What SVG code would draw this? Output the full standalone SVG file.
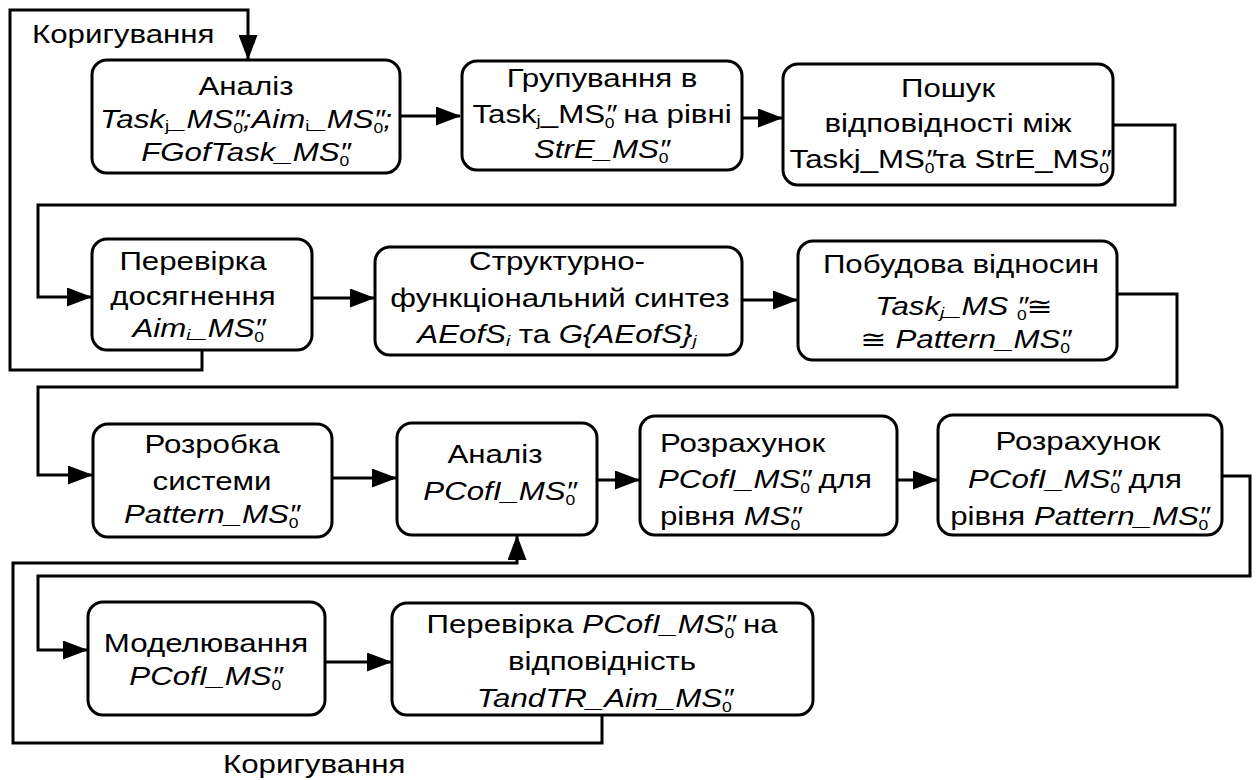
<svg xmlns="http://www.w3.org/2000/svg" width="1258" height="780" viewBox="0 0 1258 780">
<style>
.box{fill:#fff;stroke:#000;stroke-width:3}
.c{fill:none;stroke:#000;stroke-width:3}
.t{font-family:"Liberation Sans",Arial,"DejaVu Sans",sans-serif;font-size:25px;text-anchor:middle;fill:#000}
.l{text-anchor:start}
.i{font-style:italic}
.s{font-size:15px}
.z{font-size:14px;font-style:normal}
.p{font-size:25px}
</style>
<defs>
<marker id="ah" markerUnits="userSpaceOnUse" markerWidth="25" markerHeight="19" refX="24" refY="9.5" orient="auto">
<path d="M0,0 L25,9.5 L0,19 z" fill="#000"/>
</marker>
</defs>
<rect width="1258" height="780" fill="#fff"/>

<g id="connectors">
<path class="c" d="M400,116 H460" marker-end="url(#ah)"/>
<path class="c" d="M742,118 H782" marker-end="url(#ah)"/>
<path class="c" d="M1113,125 H1175 V205 H38 V297 H91" marker-end="url(#ah)"/>
<path class="c" d="M312,298 H374" marker-end="url(#ah)"/>
<path class="c" d="M742,300 H797" marker-end="url(#ah)"/>
<path class="c" d="M1117,294 H1177 V387 H38 V475 H92" marker-end="url(#ah)"/>
<path class="c" d="M332,478 H396" marker-end="url(#ah)"/>
<path class="c" d="M597,480 H639" marker-end="url(#ah)"/>
<path class="c" d="M897,480 H937" marker-end="url(#ah)"/>
<path class="c" d="M1222,476 H1250 V576 H38 V650 H87" marker-end="url(#ah)"/>
<path class="c" d="M325,662 H391" marker-end="url(#ah)"/>
<path class="c" d="M202,350 V370 H10 V10 H248 V59" marker-end="url(#ah)"/>
<path class="c" d="M602,715 V743 H13 V563 H517 V536" marker-end="url(#ah)"/>
<text class="t l" transform="translate(32,43) scale(1.25,1)">Коригування</text>
<text class="t l" transform="translate(223,773) scale(1.25,1)">Коригування</text>
</g>

<g id="n1">
<rect class="box" x="92" y="60" width="308" height="113" rx="15"/>
<text class="t" transform="translate(246,95) scale(1.25,1)">Аналіз</text>
<text class="t i" transform="translate(246,128) scale(1.25,1)">Task<tspan class="s" dy="3" style="font-style:normal">j</tspan><tspan dy="-3">_MS</tspan><tspan class="p">″</tspan><tspan class="z" dx="-9" dy="5">0</tspan><tspan dy="-5">;Aim</tspan><tspan class="s" dy="3" style="font-style:normal">i</tspan><tspan dy="-3">_MS</tspan><tspan class="p">″</tspan><tspan class="z" dx="-9" dy="5">0</tspan><tspan dy="-5">;</tspan></text>
<text class="t i" transform="translate(246,161) scale(1.25,1)">FGofTask_MS<tspan class="p">″</tspan><tspan class="z" dx="-9" dy="5">0</tspan></text>
</g>

<g id="n2">
<rect class="box" x="462" y="61" width="280" height="109" rx="15"/>
<text class="t" transform="translate(602,87) scale(1.25,1)">Групування в</text>
<text class="t" transform="translate(602,123) scale(1.25,1)">Task<tspan class="s" dy="3">j</tspan><tspan dy="-3">_MS</tspan><tspan class="p i">″</tspan><tspan class="z" dx="-9" dy="5">0</tspan><tspan dy="-5"> на рівні</tspan></text>
<text class="t i" transform="translate(602,158) scale(1.25,1)">StrE_MS<tspan class="p">″</tspan><tspan class="z" dx="-9" dy="5">0</tspan></text>
</g>

<g id="n3">
<rect class="box" x="783" y="64" width="330" height="121" rx="15"/>
<text class="t" transform="translate(948,97) scale(1.25,1)">Пошук</text>
<text class="t" transform="translate(948,132) scale(1.25,1)">відповідності між</text>
<text class="t" transform="translate(950,168) scale(1.25,1)">Taskj_MS<tspan class="p i">″</tspan><tspan class="z" dx="-9" dy="5">0</tspan><tspan dy="-5">та StrE_MS</tspan><tspan class="p i">″</tspan><tspan class="z" dx="-9" dy="5">0</tspan></text>
</g>

<g id="n4">
<rect class="box" x="92" y="239" width="220" height="111" rx="15"/>
<text class="t" transform="translate(193,270) scale(1.25,1)">Перевірка</text>
<text class="t" transform="translate(193,305) scale(1.25,1)">досягнення</text>
<text class="t i" transform="translate(199,337) scale(1.25,1)">Aim<tspan class="s" dy="3">i</tspan><tspan dy="-3">_MS</tspan><tspan class="p">″</tspan><tspan class="z" dx="-9" dy="5">0</tspan></text>
</g>

<g id="n5">
<rect class="box" x="375" y="247" width="367" height="108" rx="15"/>
<text class="t" transform="translate(557,270) scale(1.25,1)">Структурно-</text>
<text class="t" transform="translate(560,307) scale(1.25,1)">функціональний синтез</text>
<text class="t" transform="translate(557,343) scale(1.25,1)"><tspan class="i">AEofS</tspan><tspan class="s i" dy="3">i</tspan><tspan dy="-3"> та </tspan><tspan class="i">G{AEofS}</tspan><tspan class="s i" dy="3">j</tspan></text>
</g>

<g id="n6">
<rect class="box" x="798" y="241" width="319" height="119" rx="15"/>
<text class="t" transform="translate(961,273) scale(1.25,1)">Побудова відносин</text>
<text class="t i" transform="translate(964,315) scale(1.25,1)">Task<tspan class="s" dy="3">j</tspan><tspan dy="-3">_MS </tspan><tspan class="p">″</tspan><tspan class="z" dx="-9" dy="5">0</tspan><tspan dy="-5" style="font-style:normal">≅</tspan></text>
<text class="t i" transform="translate(966,348) scale(1.25,1)"><tspan style="font-style:normal">≅ </tspan>Pattern_MS<tspan class="p">″</tspan><tspan class="z" dx="-9" dy="5">0</tspan></text>
</g>

<g id="n7">
<rect class="box" x="93" y="424" width="239" height="113" rx="15"/>
<text class="t" transform="translate(212,453) scale(1.25,1)">Розробка</text>
<text class="t" transform="translate(212,490) scale(1.25,1)">системи</text>
<text class="t i" transform="translate(212,523) scale(1.25,1)">Pattern_MS<tspan class="p">″</tspan><tspan class="z" dx="-9" dy="5">0</tspan></text>
</g>

<g id="n8">
<rect class="box" x="397" y="423" width="200" height="112" rx="15"/>
<text class="t" transform="translate(495,463) scale(1.25,1)">Аналіз</text>
<text class="t i" transform="translate(500,500) scale(1.25,1)">PCofI_MS<tspan class="p">″</tspan><tspan class="z" dx="-9" dy="5">0</tspan></text>
</g>

<g id="n9">
<rect class="box" x="640" y="416" width="257" height="119" rx="15"/>
<text class="t l" transform="translate(660,452) scale(1.25,1)">Розрахунок</text>
<text class="t l" transform="translate(658,488) scale(1.25,1)"><tspan class="i">PCofI_MS</tspan><tspan class="p i">″</tspan><tspan class="z" dx="-9" dy="5">0</tspan><tspan dy="-5"> для</tspan></text>
<text class="t l" transform="translate(660,525) scale(1.25,1)">рівня <tspan class="i">MS</tspan><tspan class="p i">″</tspan><tspan class="z" dx="-9" dy="5">0</tspan></text>
</g>

<g id="n10">
<rect class="box" x="938" y="415" width="284" height="120" rx="15"/>
<text class="t" transform="translate(1078,450) scale(1.25,1)">Розрахунок</text>
<text class="t" transform="translate(1075,488) scale(1.25,1)"><tspan class="i">PCofI_MS</tspan><tspan class="p i">″</tspan><tspan class="z" dx="-9" dy="5">0</tspan><tspan dy="-5"> для</tspan></text>
<text class="t" transform="translate(1080,525) scale(1.25,1)">рівня <tspan class="i">Pattern_MS</tspan><tspan class="p i">″</tspan><tspan class="z" dx="-9" dy="5">0</tspan></text>
</g>

<g id="n11">
<rect class="box" x="88" y="602" width="237" height="113" rx="15"/>
<text class="t" transform="translate(206,652) scale(1.25,1)">Моделювання</text>
<text class="t i" transform="translate(206,685) scale(1.25,1)">PCofI_MS<tspan class="p">″</tspan><tspan class="z" dx="-9" dy="5">0</tspan></text>
</g>

<g id="n12">
<rect class="box" x="392" y="603" width="421" height="112" rx="15"/>
<text class="t" transform="translate(602,633) scale(1.25,1)">Перевірка <tspan class="i">PCofI_MS</tspan><tspan class="p i">″</tspan><tspan class="z" dx="-9" dy="5">0</tspan><tspan dy="-5"> на</tspan></text>
<text class="t" transform="translate(602,670) scale(1.25,1)">відповідність</text>
<text class="t i" transform="translate(605,707) scale(1.25,1)">TandTR_Aim_MS<tspan class="p">″</tspan><tspan class="z" dx="-9" dy="5">0</tspan></text>
</g>
</svg>
